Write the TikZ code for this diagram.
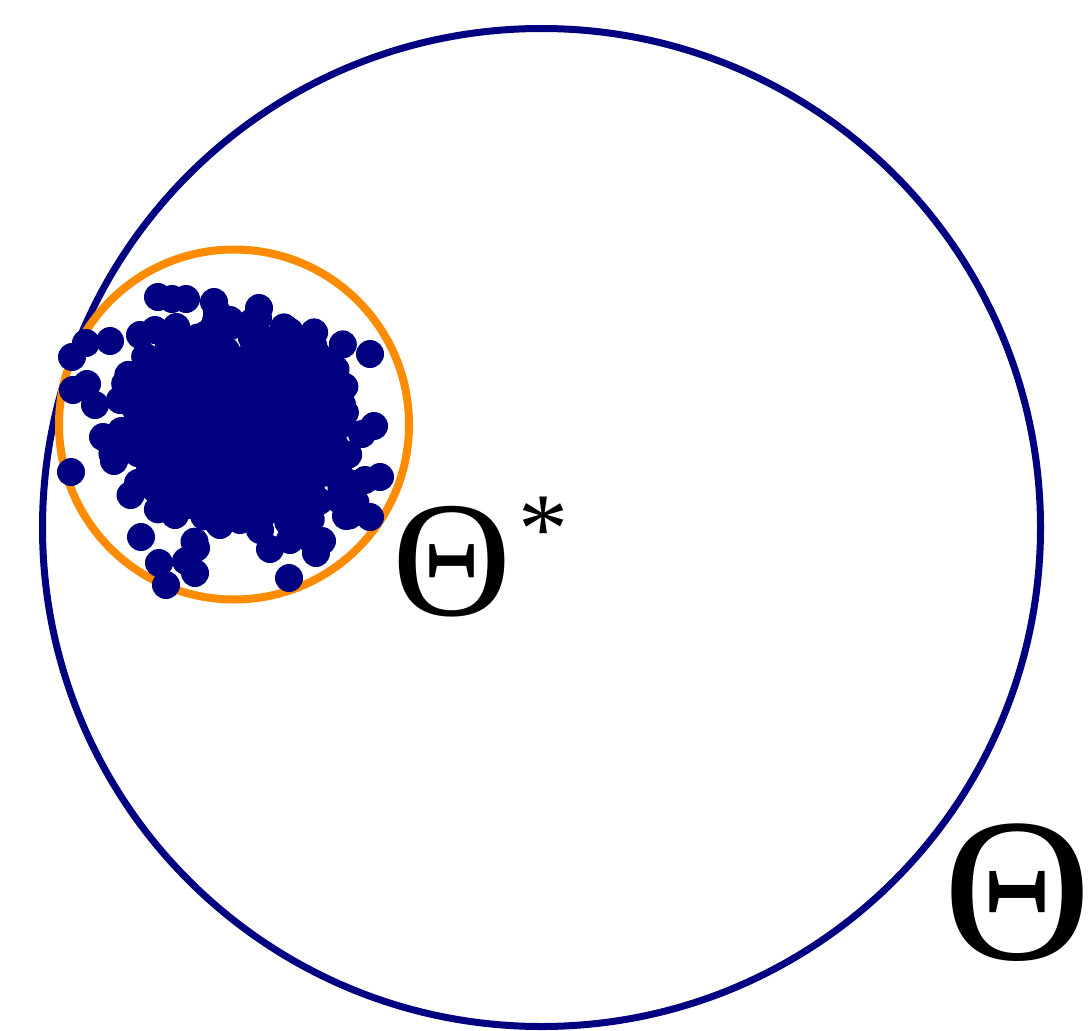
\documentclass[tikz,border=0pt]{standalone}
\usepackage{fontspec}
\setmainfont{Liberation Serif}
\definecolor{navyc}{RGB}{0,0,128}
\definecolor{orangec}{RGB}{255,140,0}
\begin{document}
\begin{tikzpicture}[x=1pt,y=-1pt,
  dot/.style={fill=navyc},
  bigring/.style={draw=navyc,line width=7pt},
  smallring/.style={draw=orangec,line width=8pt}]
\useasboundingbox (0,0) rectangle (1091,1030);
\draw[bigring] (541.5,527.5) circle[radius=499pt];
\draw[smallring] (234,424.5) circle[radius=175pt];
\pgfmathsetseed{42}
\foreach \i in {1,...,900}{
  \pgfmathsetmacro\dx{46*(rand+rand+rand)}
  \pgfmathsetmacro\dy{42*(rand+rand+rand)}
  \fill[dot] ({238+\dx},{425+\dy}) circle[radius=14pt];
}
\foreach \p in {(158,297),(172,299),(186,299),(214,302),(217,312),(259,308),(258,318),
  (370,354),(72,357),(86,343),(110,341),(73,390),(87,384),(95,405),(103,437),(114,461),
  (71,472),(124,433),(141,537),(159,563),(166,585),(186,561),(195,573),(196,548),
  (289,578),(270,549),(316,553),(322,541),(346,516),(370,517),(374,426),(362,434),
  (380,477),(365,480),(349,483),(303,350),(283,340),(316,374),(333,402),(140,335),
  (155,330),(170,340),(180,480),(175,515),(165,465),(230,320),(250,330),(300,530),(240,520),
  (205,335),(120,400),(130,380),(335,460),(340,500),(220,525),(260,530),(290,540),(150,450),
  (160,360),(310,420),(325,440),(300,365),(190,505)}
  \fill[dot] \p circle[radius=14pt];
\node[inner sep=0pt,font=\fontsize{165}{165}\selectfont] (thstar) at (452,562) {Θ};
\node[inner sep=0pt,font=\fontsize{100}{100}\selectfont,anchor=center] (star) at (543,530) {*};
\node[inner sep=0pt,font=\fontsize{205}{205}\selectfont] (theta) at (1018,893) {Θ};
\end{tikzpicture}
\end{document}
